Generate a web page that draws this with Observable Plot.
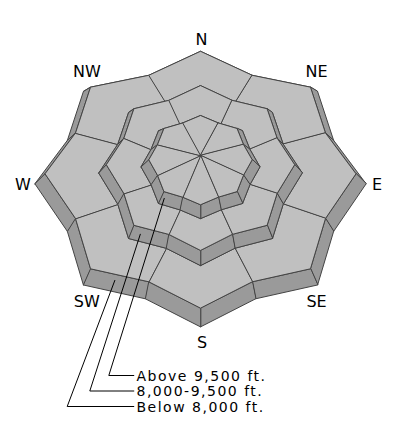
<!DOCTYPE html>
<html>
<head>
<meta charset="utf-8">
<script src="https://cdn.jsdelivr.net/npm/d3@7"></script>
<script src="https://cdn.jsdelivr.net/npm/@observablehq/plot@0.6"></script>
<style>
  html, body { margin: 0; padding: 0; background: #fff; }
</style>
</head>
<body>
<div id="chart"></div>
<script>
// ---------- data ----------
const directions = ["N", "NE", "E", "SE", "S", "SW", "W", "NW"];
const bands = ["Below 8,000 ft.", "8,000-9,500 ft.", "Above 9,500 ft."];
const ratingBelow  = ["none", "none", "none", "none", "none", "none", "none", "none"];
const ratingMiddle = ["none", "none", "none", "none", "none", "none", "none", "none"];
const ratingAbove  = ["none", "none", "none", "none", "none", "none", "none", "none"];
const legendLabels = ["Above 9,500 ft.", "8,000-9,500 ft.", "Below 8,000 ft."];

// ---------- styles ----------
const ratingColor = { none: "#c0c0c0" };
const sideColor = "#9a9a9a";
const edgeColor = "#444444";

// ---------- layout (pseudo-3D projection of each tier) ----------
const cx = 200;
const tierGeom = [
  { R: 155.5, cy: 173.3, vN: 0.788, vS: 0.864, m: 0.87, a: 1.065, py: 19.5 },
  { R: 94.2,  cy: 164.2, vN: 0.84,  vS: 0.91,  m: 0.88, a: 1.08,  py: 60 },
  { R: 51.7,  cy: 159.3, vN: 0.857, vS: 0.87,  m: 0.90, a: 1.15,  py: 112 }
];
const apexLift = 4.3;
const labelPos = {
  N: [201, 39], NE: [316, 71], E: [376.5, 184], SE: [316, 301],
  S: [201.7, 342.5], SW: [86.3, 301], W: [22.5, 184], NW: [86.3, 71]
};
const legendLayout = {
  textX: 136, baselines: [380, 395.5, 411], rowY: [375, 390.5, 406],
  elbowX: [108.3, 89.3, 66.7], endX: 133.3,
  anchors: [[2, 0.15, 0.5], [1, 0.25, 0.5], [0, 0.45, 0.35]]
};

const rad = Math.PI / 180;
function topPt(t, deg, r) {
  const g = tierGeom[t];
  const s = Math.sin(deg * rad), c = Math.cos(deg * rad);
  return [cx + g.R * r * s, g.cy - g.R * r * c * (c > 0 ? g.vN : g.vS)];
}
function botPt(t, deg, r) {
  const g = tierGeom[t];
  const [x, y] = topPt(t, deg, r);
  return [cx + g.a * (x - cx), g.py + g.a * (y - g.py)];
}
function outline(t, fn) {
  const pts = [];
  for (let j = 0; j < 8; j++) {
    pts.push(fn(t, 45 * j, 1));
    pts.push(fn(t, 45 * j + 22.5, tierGeom[t].m));
  }
  return pts;
}
const lerp = (p, q, f) => [p[0] + (q[0] - p[0]) * f, p[1] + (q[1] - p[1]) * f];

function sideRows(t) {
  const T = outline(t, topPt), B = outline(t, botPt);
  const quads = [];
  for (let k = 0; k < 16; k++) {
    const n = (k + 1) % 16;
    quads.push([T[k], T[n], B[n], B[k]]);
  }
  quads.sort((p, q) => d3.mean(p, d => d[1]) - d3.mean(q, d => d[1]));
  return quads.flatMap((q, i) => q.map(([x, y]) => ({ id: `s${t}-${i}`, x, y })));
}

const ratings = [ratingBelow, ratingMiddle, ratingAbove];
function ringRows(t) {
  const rows = [];
  const m = tierGeom[t].m;
  for (let j = 0; j < 8; j++) {
    const a0 = 45 * j - 22.5, a1 = 45 * j + 22.5;
    const pts = [topPt(t, a0, m), topPt(t, 45 * j, 1), topPt(t, a1, m)];
    if (t < 2) {
      const m1 = tierGeom[t + 1].m;
      pts.push(botPt(t + 1, a1, m1), botPt(t + 1, 45 * j, 1), botPt(t + 1, a0, m1));
    } else {
      pts.push([cx, tierGeom[t].cy - apexLift]);
    }
    const fill = ratingColor[ratings[t][j]];
    pts.forEach(([x, y]) => rows.push({ id: `r${t}-${j}`, band: bands[t], dir: directions[j], fill, x, y }));
  }
  return rows;
}

function bandAnchor(t, f, depth) {
  const m = tierGeom[t].m;
  const top = lerp(topPt(t, 225, 1), topPt(t, 202.5, m), f);
  const bot = lerp(botPt(t, 225, 1), botPt(t, 202.5, m), f);
  return lerp(top, bot, depth);
}

const leaderRows = legendLabels.flatMap((label, i) => {
  const [t, f, dp] = legendLayout.anchors[i];
  const pts = [bandAnchor(t, f, dp), [legendLayout.elbowX[i], legendLayout.rowY[i]], [legendLayout.endX, legendLayout.rowY[i]]];
  return pts.map(([x, y]) => ({ id: label, x, y }));
});
const legendRows = legendLabels.map((label, i) => ({ label, x: legendLayout.textX, y: legendLayout.baselines[i] }));
const dirRows = directions.map(d => ({ d, x: labelPos[d][0], y: labelPos[d][1] }));

const lineOpts = { x: "x", y: "y", z: "id", curve: "linear-closed", stroke: edgeColor, strokeWidth: 1, strokeLinejoin: "miter" };

const marks = [];
for (let t = 0; t < 3; t++) {
  marks.push(Plot.line(sideRows(t), { ...lineOpts, fill: sideColor }));
  marks.push(Plot.line(ringRows(t), { ...lineOpts, fill: "fill", title: d => `${d.band} ${d.dir}` }));
}
marks.push(Plot.line(leaderRows, { x: "x", y: "y", z: "id", stroke: "black", strokeWidth: 1, strokeLinejoin: "miter" }));
marks.push(Plot.text(dirRows, { x: "x", y: "y", text: "d", fontSize: 16, fontFamily: "DejaVu Sans", fill: "black", lineAnchor: "middle" }));
marks.push(Plot.text(legendRows, { x: "x", y: "y", text: "label", fontSize: 14, fontFamily: "DejaVu Sans", fill: "black", textAnchor: "start", lineAnchor: "bottom" }));

const plot = Plot.plot({
  width: 400,
  height: 440,
  margin: 0,
  x: { domain: [0, 400], range: [0, 400], axis: null },
  y: { domain: [0, 440], range: [0, 440], axis: null },
  color: { type: "identity" },
  style: { background: "white", fontFamily: "DejaVu Sans, sans-serif" },
  marks
});
plot.querySelectorAll("text").forEach(e => {
  if (legendLabels.includes(e.textContent)) {
    e.setAttribute("letter-spacing", "1.5");
    e.style.letterSpacing = "1.5px";
  }
});
document.getElementById("chart").appendChild(plot);
</script>
</body>
</html>
